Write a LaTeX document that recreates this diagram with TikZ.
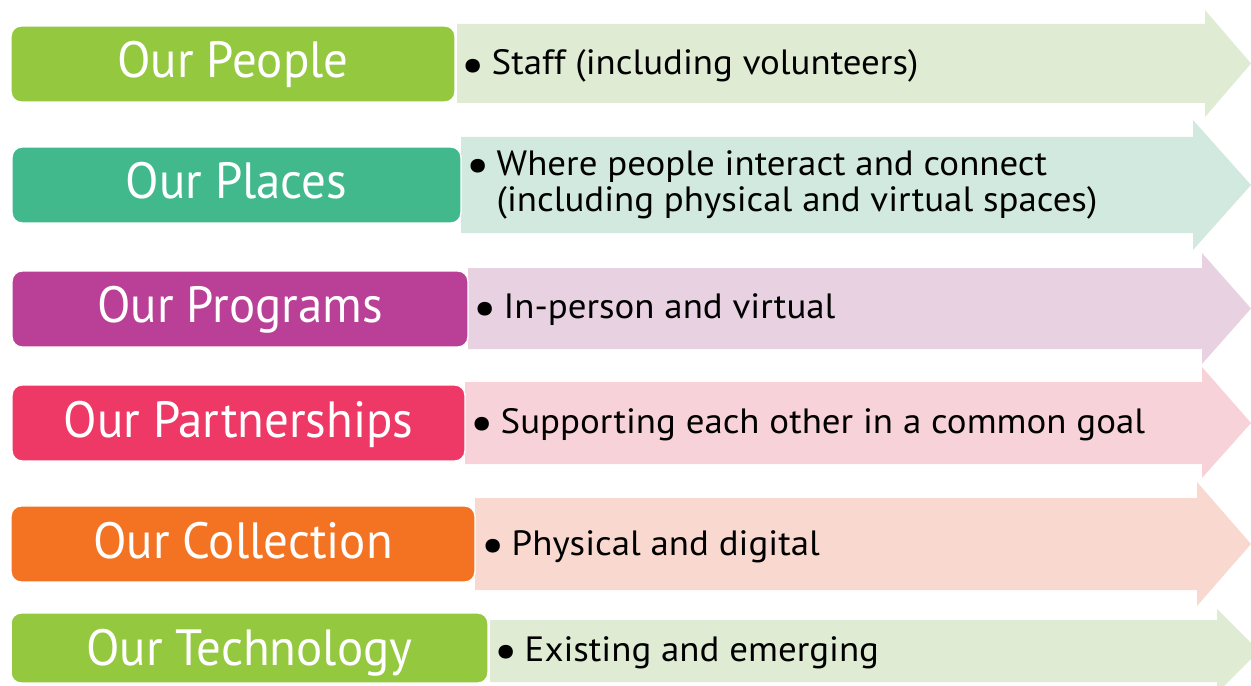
\documentclass[tikz,border=0pt]{standalone}
\usepackage{fontspec}
\setmainfont{PT Sans}[FakeStretch=1.05]
\newfontfamily\headfont{PT Sans}[FakeStretch=0.96]
\usepackage{tikz}
\usetikzlibrary{positioning}

% Box colours and their pale arrow tints
\definecolor{peopleGreen}{HTML}{93C83F}
\definecolor{peopleTint}{HTML}{DFEBD3}
\definecolor{placesTeal}{HTML}{41B98D}
\definecolor{placesTint}{HTML}{D1E9DF}
\definecolor{programsPurple}{HTML}{B93F97}
\definecolor{programsTint}{HTML}{E8D1E1}
\definecolor{partnersPink}{HTML}{EE3865}
\definecolor{partnersTint}{HTML}{F8D2D9}
\definecolor{collectionOrange}{HTML}{F37322}
\definecolor{collectionTint}{HTML}{F9D9CF}

% larger bullet, dropped onto the text line
\newcommand{\pointmark}{\raisebox{-3.6pt}{\fontsize{28}{28}\selectfont\textbullet}}

\tikzset{
    headbox/.style={fill=#1, draw=white, line width=0.8pt, rounded corners=0.2cm,
        text=white, inner sep=0pt, text height=1.04cm,
        font=\headfont\fontsize{29}{34}\selectfont},
    pointtext/.style={anchor=base west, inner sep=0pt, text=black,
        font=\fontsize{20}{21}\selectfont}
}

\begin{document}
\begin{tikzpicture}[
    x=0.02cm,
    y=-0.02cm
]

    \clip (0,0) rectangle (1251,686);

    % Arrows behind the boxes
    \fill[peopleTint] (457,24) -- (1205,24) -- (1205,10) -- (1251,63.5) -- (1205,117) -- (1205,103) -- (457,103) -- cycle;
    \fill[placesTint] (461,137) -- (1193,137) -- (1193,120) -- (1251,185) -- (1193,250) -- (1193,233) -- (461,233) -- cycle;
    \fill[programsTint] (468,268) -- (1202,268) -- (1202,253) -- (1251,308.5) -- (1202,364) -- (1202,349) -- (468,349) -- cycle;
    \fill[partnersTint] (465,382) -- (1202,382) -- (1202,367) -- (1251,423) -- (1202,478) -- (1202,464) -- (465,464) -- cycle;
    \fill[collectionTint] (475,498) -- (1197,498) -- (1197,482) -- (1251,544) -- (1197,606) -- (1197,590) -- (475,590) -- cycle;
    \fill[peopleTint] (490,620) -- (1217,620) -- (1217,609) -- (1259,651) -- (1217,693) -- (1217,682) -- (490,682) -- cycle;

    % Coloured heading boxes
    \node[headbox=peopleGreen, minimum width=8.88cm, minimum height=1.52cm, text depth=0.48cm] (people) at (233,64) {Our People};
    \node[headbox=placesTeal, minimum width=8.98cm, minimum height=1.52cm, text depth=0.48cm] (places) at (236.5,185) {Our Places};
    \node[headbox=programsPurple, minimum width=9.12cm, minimum height=1.52cm, text depth=0.48cm] (programs) at (240,309) {Our Programs};
    \node[headbox=partnersPink, minimum width=9.06cm, minimum height=1.52cm, text depth=0.48cm] (partnerships) at (238.5,423) {Our Partnerships};
    \node[headbox=collectionOrange, minimum width=9.28cm, minimum height=1.52cm, text depth=0.48cm] (collection) at (243,544) {Our Collection};
    \node[headbox=peopleGreen, minimum width=9.54cm, minimum height=1.40cm, text depth=0.36cm] (technology) at (249.5,648) {Our Technology};

    % Bullet points
    \node[pointtext] (peopleNote) at (461,75) {\pointmark\hspace{4pt}Staff (including volunteers)};
    \node[pointtext] (placesNote) at (466,175) {\begin{tabular}[t]{@{}l@{\hspace{4pt}}l@{}}
        \pointmark & Where people interact and connect \\
                   & (including physical and virtual spaces)
    \end{tabular}};
    \node[pointtext] (programsNote) at (473,318) {\pointmark\hspace{4pt}In-person and virtual};
    \node[pointtext] (partnershipsNote) at (470,433) {\pointmark\hspace{4pt}Supporting each other in a common goal};
    \node[pointtext] (collectionNote) at (481,555) {\pointmark\hspace{4pt}Physical and digital};
    \node[pointtext] (technologyNote) at (494,661) {\pointmark\hspace{4pt}Existing and emerging};

\end{tikzpicture}
\end{document}
